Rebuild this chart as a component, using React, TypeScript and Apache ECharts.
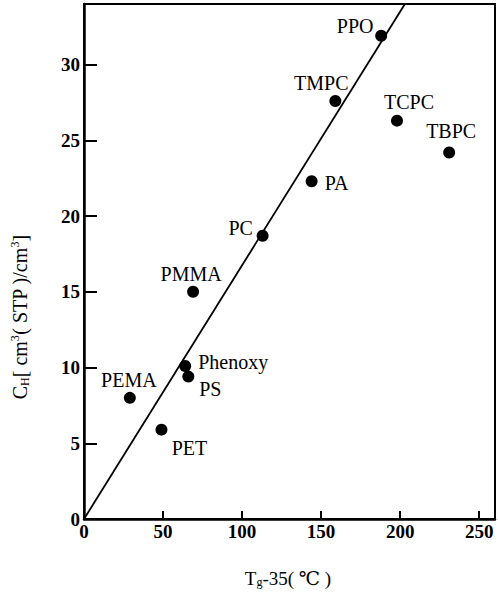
import React, { useEffect, useRef } from "react";
import * as echarts from "echarts";

const polymers = ["PEMA", "PET", "Phenoxy", "PS", "PMMA", "PC", "PA", "TMPC", "PPO", "TCPC", "TBPC"];
const tgMinus35 = [29, 49, 64, 66, 69, 113, 144, 159, 188, 198, 231];
const chValues = [8.0, 5.9, 10.1, 9.4, 15.0, 18.7, 22.3, 27.6, 31.9, 26.3, 24.2];
const fitLineX = [0, 203];
const fitLineY = [0, 34];
const xTicks = [0, 50, 100, 150, 200, 250];
const yTicks = [0, 5, 10, 15, 20, 25, 30];

// label placement (pixel offsets from point centre), styling only
const labelOffsets: number[][] = [
  [-1, -18], [28, 18], [48, -4], [22, 12], [-2, -18], [-22, -8],
  [25, 2], [-14, -18], [-26, -10], [12, -19], [2, -21],
];

const FONT = "'Liberation Serif', 'DejaVu Serif', serif";

export default function App() {
  const ref = useRef<HTMLDivElement>(null);
  useEffect(() => {
    if (!ref.current) return;
    const chart = echarts.init(ref.current, null, { renderer: "svg" });
    const scatterData = polymers.map((n, i) => ({
      value: [tgMinus35[i], chValues[i]],
      name: n,
      label: { offset: labelOffsets[i] },
    }));
    chart.setOption({
      animation: false,
      backgroundColor: "#fff",
      textStyle: { fontFamily: FONT },
      grid: {
        left: 84, top: 4, right: 2, bottom: 77,
        show: true, borderColor: "#000", borderWidth: 2,
      },
      xAxis: {
        type: "value", min: 0, max: 260, interval: 50,
        axisLine: { show: true, onZero: false, lineStyle: { color: "#000", width: 2.5 } },
        axisTick: { show: true, inside: true, length: 8, lineStyle: { color: "#000", width: 2 } },
        splitLine: { show: false },
        axisLabel: {
          color: "#000", fontFamily: FONT, fontSize: 19, fontWeight: "bold", margin: 3,
          formatter: (v: number) => (xTicks.includes(v) ? String(v) : ""),
        },
      },
      yAxis: {
        type: "value", min: 0, max: 34, interval: 5,
        axisLine: { show: true, onZero: false, lineStyle: { color: "#000", width: 2.5 } },
        axisTick: { show: true, inside: true, length: 13, lineStyle: { color: "#000", width: 2 } },
        splitLine: { show: false },
        axisLabel: {
          color: "#000", fontFamily: FONT, fontSize: 19, fontWeight: "bold", margin: 4,
          formatter: (v: number) => (yTicks.includes(v) ? String(v) : ""),
        },
      },
      graphic: [
        {
          type: "text", x: 20, y: 317, rotation: Math.PI / 2,
          style: {
            text: "{n|C}{s|H}{n|[ cm}{p|3}{n|( STP )/cm}{p|3}{n|]}",
            align: "center", verticalAlign: "middle",
            fill: "#000",
            rich: {
              n: { fontFamily: FONT, fontSize: 20, fill: "#000", lineHeight: 22 },
              s: { fontFamily: FONT, fontSize: 12, fill: "#000", verticalAlign: "bottom", lineHeight: 22 },
              p: { fontFamily: FONT, fontSize: 12, fill: "#000", verticalAlign: "top", lineHeight: 22 },
            },
          },
        },
        {
          type: "text", x: 288, y: 578,
          style: {
            text: "{n|T}{s|g}{n|-35( ℃ )}",
            align: "center", verticalAlign: "middle",
            fill: "#000",
            rich: {
              n: { fontFamily: FONT, fontSize: 19, fill: "#000", lineHeight: 20 },
              s: { fontFamily: FONT, fontSize: 12, fill: "#000", verticalAlign: "bottom", lineHeight: 20 },
            },
          },
        },
      ],
      series: [
        {
          type: "line",
          data: fitLineX.map((x, i) => [x, fitLineY[i]]),
          showSymbol: false,
          symbol: "none",
          lineStyle: { color: "#000", width: 1.8 },
          clip: true,
          silent: true,
        },
        {
          type: "scatter",
          data: scatterData,
          symbol: "circle",
          symbolSize: 12,
          itemStyle: { color: "#000", opacity: 1 },
          label: {
            show: true,
            position: "inside",
            align: "center",
            verticalAlign: "middle",
            formatter: (p: any) => p.name,
            color: "#000",
            fontFamily: FONT,
            fontSize: 20,
          },
        },
      ],
    });
    return () => chart.dispose();
  }, []);
  return (
    <div
      ref={ref}
      style={{ position: "fixed", left: 0, top: 0, width: 498, height: 596, background: "#fff" }}
    />
  );
}
